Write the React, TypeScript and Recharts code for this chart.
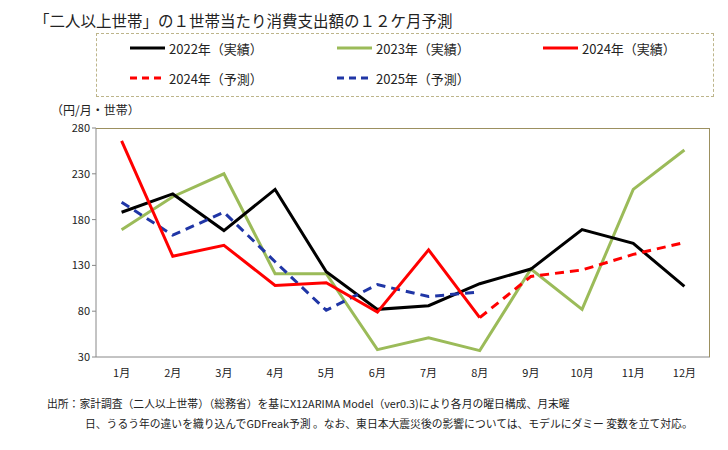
import React from 'react';
import { LineChart, Line, XAxis, YAxis } from 'recharts';

const months = ['1月', '2月', '3月', '4月', '5月', '6月', '7月', '8月', '9月', '10月', '11月', '12月'];
const actual2022 = [188, 208, 168, 213, 123, 82, 86, 110, 126, 169, 154, 107];
const actual2023 = [169, 205, 230, 121, 121, 38, 51, 37, 126, 82, 213, 256];
const actual2024: (number | null)[] = [266, 140, 152, 108, 111, 79, 147, 73, null, null, null, null];
const forecast2024: (number | null)[] = [null, null, null, null, null, null, null, 73, 118, 125, 142, 155];
const forecast2025: (number | null)[] = [199, 163, 188, 134, 81, 109, 96, 101, null, null, null, null];
const yTicks = [30, 80, 130, 180, 230, 280];

const data = months.map((m, i) => ({
  month: m,
  a2022: actual2022[i],
  a2023: actual2023[i],
  a2024: actual2024[i],
  f2024: forecast2024[i],
  f2025: forecast2025[i],
}));

const FONT = '"Noto Sans CJK JP", "Noto Sans", sans-serif';

const legendItems = [
  { label: '2022年（実績）', color: '#000000', dash: undefined as string | undefined, x: 130, y: 48 },
  { label: '2023年（実績）', color: '#9BBB59', dash: undefined, x: 337, y: 48 },
  { label: '2024年（実績）', color: '#FF0000', dash: undefined, x: 543, y: 48 },
  { label: '2024年（予測）', color: '#FF0000', dash: '7 5', x: 130, y: 78 },
  { label: '2025年（予測）', color: '#2036A6', dash: '7 5', x: 337, y: 78 },
];

export default function App() {
  return (
    <div style={{ position: 'fixed', left: 0, top: 0, width: 728, height: 450, background: '#fff', fontFamily: FONT }}>
      <div style={{ position: 'absolute', left: 34, top: 9, fontSize: 15.5, color: '#222', whiteSpace: 'nowrap' }}>
        「二人以上世帯」の１世帯当たり消費支出額の１２ケ月予測
      </div>
      <div style={{ position: 'absolute', left: 96, top: 33, width: 616, height: 62, border: '1px dashed #BDB58B' }} />
      {legendItems.map((it) => (
        <div key={it.label} style={{ position: 'absolute', left: it.x, top: it.y - 9, height: 18, display: 'flex', alignItems: 'center', whiteSpace: 'nowrap' }}>
          <svg width={36} height={6} style={{ marginRight: 3 }}>
            <line x1={0} y1={3} x2={35} y2={3} stroke={it.color} strokeWidth={3} strokeDasharray={it.dash} />
          </svg>
          <span style={{ fontSize: 13, color: '#222' }}>{it.label}</span>
        </div>
      ))}
      <div style={{ position: 'absolute', left: 51, top: 104, fontSize: 12, lineHeight: '12px', color: '#222', whiteSpace: 'nowrap' }}>（円/月・世帯）</div>
      <div style={{ position: 'absolute', left: 0, top: 0 }}>
        <LineChart width={728} height={450} data={data} margin={{ top: 128, right: 18, bottom: 63, left: 36 }}>
          <XAxis
            dataKey="month"
            height={30}
            padding={{ left: 25.6, right: 25.6 }}
            tickLine={false}
            axisLine={{ stroke: '#888888' }}
            tick={{ fontSize: 11, fill: '#222', fontFamily: FONT }}
            tickMargin={6}
          />
          <YAxis
            width={60}
            domain={[30, 280]}
            ticks={yTicks}
            interval={0}
            tickSize={4}
            tickLine={{ stroke: '#888888' }}
            axisLine={{ stroke: '#888888' }}
            tick={{ fontSize: 11, fill: '#222', fontFamily: FONT }}
          />
          <Line dataKey="a2023" stroke="#9BBB59" strokeWidth={3} dot={false} isAnimationActive={false} />
          <Line dataKey="a2022" stroke="#000000" strokeWidth={3} dot={false} isAnimationActive={false} />
          <Line dataKey="f2025" stroke="#2036A6" strokeWidth={3} strokeDasharray="9 6" dot={false} isAnimationActive={false} />
          <Line dataKey="f2024" stroke="#FF0000" strokeWidth={3} strokeDasharray="9 6" dot={false} isAnimationActive={false} />
          <Line dataKey="a2024" stroke="#FF0000" strokeWidth={3} dot={false} isAnimationActive={false} />
        </LineChart>
      </div>
      <div style={{ position: 'absolute', left: 96, top: 128, width: 614, height: 229, borderTop: '1px solid #9C9060', borderRight: '1px solid #9C9060', boxSizing: 'border-box', pointerEvents: 'none' }} />
      <div style={{ position: 'absolute', left: 47, top: 395, fontSize: 10.8, color: '#222', whiteSpace: 'nowrap' }}>
        出所：家計調査（二人以上世帯）（総務省）を基にX12ARIMA Model（ver0.3)により各月の曜日構成、月末曜
      </div>
      <div style={{ position: 'absolute', left: 85, top: 415, fontSize: 10.8, color: '#222', whiteSpace: 'nowrap' }}>
        日、うるう年の違いを織り込んでGDFreak予測 。なお、東日本大震災後の影響については、モデルにダミー 変数を立て対応。
      </div>
    </div>
  );
}
